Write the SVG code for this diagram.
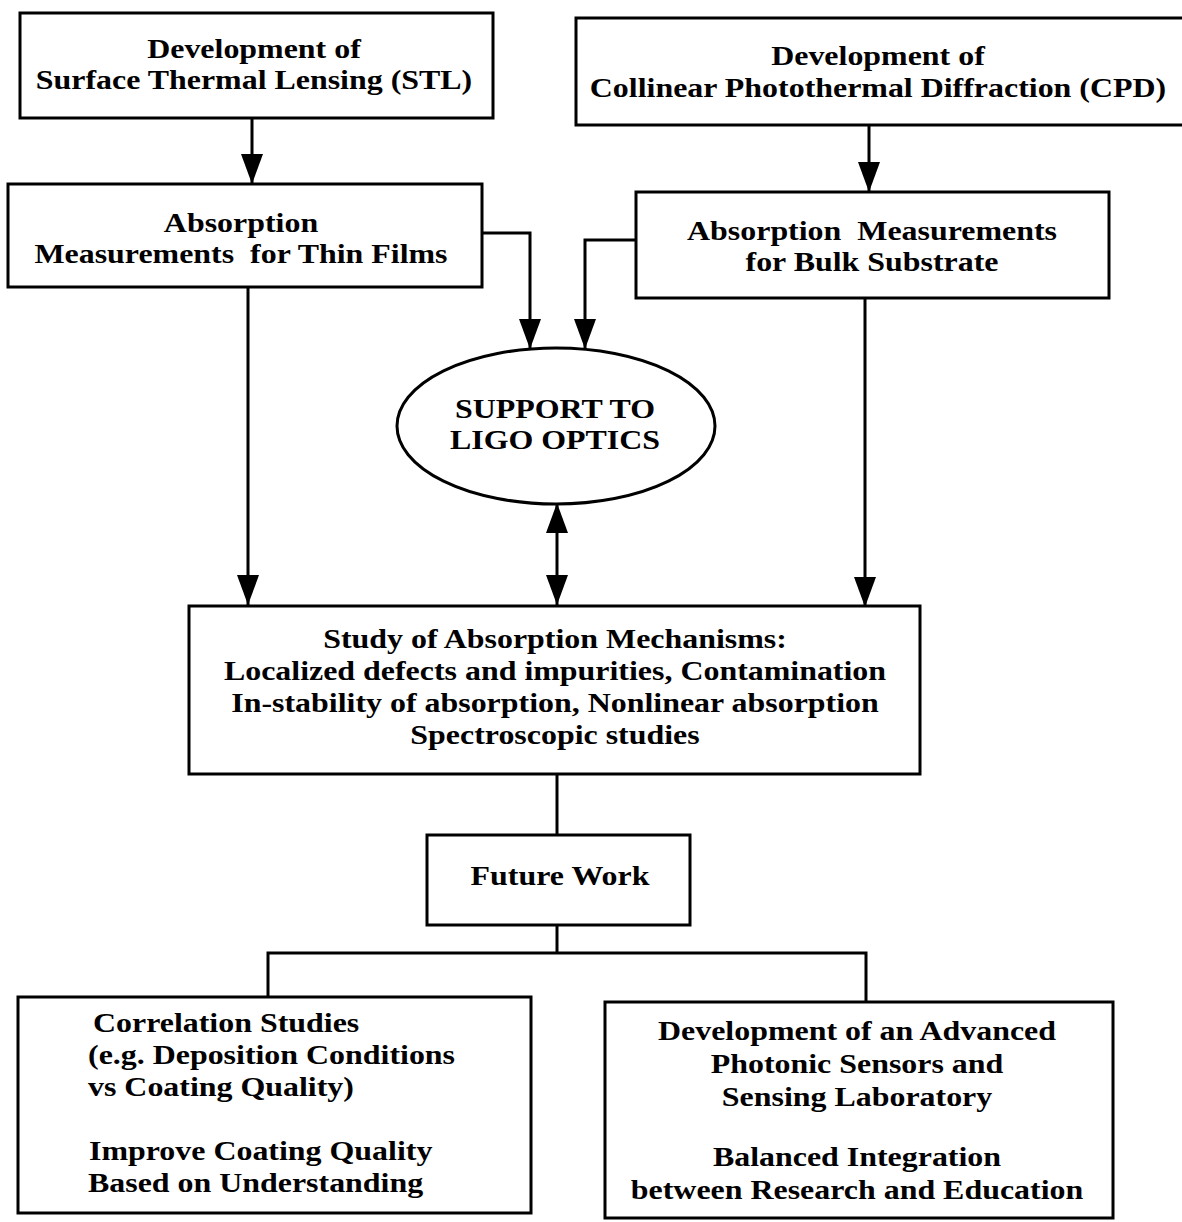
<svg xmlns="http://www.w3.org/2000/svg" width="1182" height="1222" viewBox="0 0 1182 1222">
<style>
.box{fill:#fff;stroke:#000;stroke-width:3}
.con{fill:none;stroke:#000;stroke-width:3}
text{font-family:"Liberation Serif","Times New Roman",serif;font-weight:bold;font-size:28px;fill:#000;text-anchor:middle}
.l{text-anchor:start}
</style>
<defs>
<marker id="ah" viewBox="0 0 30 22" refX="30" refY="11" markerWidth="30" markerHeight="22" markerUnits="userSpaceOnUse" orient="auto-start-reverse">
<path d="M0,0 L30,11 L0,22 z" fill="#000"/>
</marker>
</defs>
<rect width="1182" height="1222" fill="#fff"/>
<g id="connectors">
<path class="con" d="M252,118 V184" marker-end="url(#ah)"/>
<path class="con" d="M869,125 V192" marker-end="url(#ah)"/>
<path class="con" d="M482,233 H530 V349" marker-end="url(#ah)"/>
<path class="con" d="M636,240 H585 V349" marker-end="url(#ah)"/>
<path class="con" d="M248,287 V605" marker-end="url(#ah)"/>
<path class="con" d="M865,298 V607" marker-end="url(#ah)"/>
<path class="con" d="M557,503 V605" marker-start="url(#ah)" marker-end="url(#ah)"/>
<path class="con" d="M557,774 V835"/>
<path class="con" d="M557,925 V953"/>
<path class="con" d="M268,997 V953 H866 V1002"/>
</g>
<g id="stl">
<rect class="box" x="20" y="13" width="473" height="105"/>
<text transform="translate(254,58) scale(1.14,1)">Development of</text>
<text transform="translate(254,89) scale(1.14,1)">Surface Thermal Lensing (STL)</text>
</g>
<g id="cpd">
<rect class="box" x="576" y="18" width="610" height="107"/>
<text transform="translate(878,65) scale(1.14,1)">Development of</text>
<text transform="translate(878,97) scale(1.14,1)">Collinear Photothermal Diffraction (CPD)</text>
</g>
<g id="thin">
<rect class="box" x="8" y="184" width="474" height="103"/>
<text transform="translate(241,232) scale(1.14,1)">Absorption</text>
<text transform="translate(241,263) scale(1.14,1)" xml:space="preserve">Measurements  for Thin Films</text>
</g>
<g id="bulk">
<rect class="box" x="636" y="192" width="473" height="106"/>
<text transform="translate(872,240) scale(1.14,1)" xml:space="preserve">Absorption  Measurements</text>
<text transform="translate(872,271) scale(1.14,1)">for Bulk Substrate</text>
</g>
<g id="ligo">
<ellipse class="box" cx="556" cy="426" rx="159" ry="78"/>
<text transform="translate(555,418) scale(1.14,1)">SUPPORT TO</text>
<text transform="translate(555,449) scale(1.14,1)">LIGO OPTICS</text>
</g>
<g id="study">
<rect class="box" x="189" y="606" width="731" height="168"/>
<text transform="translate(555,648) scale(1.14,1)">Study of Absorption Mechanisms:</text>
<text transform="translate(555,680) scale(1.14,1)">Localized defects and impurities, Contamination</text>
<text transform="translate(555,712) scale(1.14,1)">In-stability of absorption, Nonlinear absorption</text>
<text transform="translate(555,744) scale(1.14,1)">Spectroscopic studies</text>
</g>
<g id="future">
<rect class="box" x="427" y="835" width="263" height="90"/>
<text transform="translate(560,885) scale(1.14,1)">Future Work</text>
</g>
<g id="correlation">
<rect class="box" x="18" y="997" width="513" height="216"/>
<text class="l" transform="translate(93,1032) scale(1.14,1)">Correlation Studies</text>
<text class="l" transform="translate(88,1064) scale(1.14,1)">(e.g. Deposition Conditions</text>
<text class="l" transform="translate(88,1096) scale(1.14,1)">vs Coating Quality)</text>
<text class="l" transform="translate(89,1160) scale(1.14,1)">Improve Coating Quality</text>
<text class="l" transform="translate(88,1192) scale(1.14,1)">Based on Understanding</text>
</g>
<g id="lab">
<rect class="box" x="605" y="1002" width="508" height="216"/>
<text transform="translate(857,1040) scale(1.14,1)">Development of an Advanced</text>
<text transform="translate(857,1073) scale(1.14,1)">Photonic Sensors and</text>
<text transform="translate(857,1106) scale(1.14,1)">Sensing Laboratory</text>
<text transform="translate(857,1166) scale(1.14,1)">Balanced Integration</text>
<text transform="translate(857,1199) scale(1.14,1)">between Research and Education</text>
</g>
</svg>
